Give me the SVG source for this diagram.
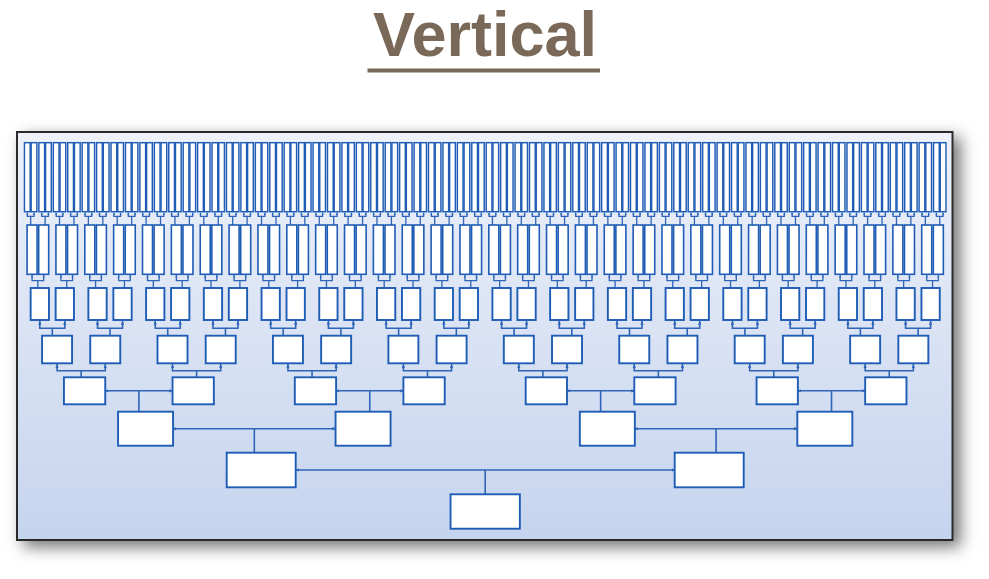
<svg xmlns="http://www.w3.org/2000/svg" width="989" height="579" viewBox="0 0 989 579">
<defs>
<linearGradient id="bg" x1="0" y1="0" x2="0" y2="1"><stop offset="0" stop-color="#eef1fa"/><stop offset="1" stop-color="#c5d4ee"/></linearGradient>
<filter id="sh" x="-5%" y="-5%" width="115%" height="125%"><feDropShadow dx="7" dy="6" stdDeviation="8" flood-color="#000" flood-opacity="0.55"/></filter>
<marker id="ah" viewBox="0 0 4 4" refX="4" refY="2" markerWidth="4" markerHeight="4" markerUnits="userSpaceOnUse" orient="auto-start-reverse"><path d="M0 0.4L4 2L0 3.6z" fill="#2d65b8"/></marker>
<marker id="as" viewBox="0 0 4 4" refX="4" refY="2" markerWidth="2.6" markerHeight="2.6" markerUnits="userSpaceOnUse" orient="auto-start-reverse"><path d="M0 0.4L4 2L0 3.6z" fill="#2d65b8"/></marker>
<rect id="b7L" x="-6.2" y="142.7" width="5.7" height="69"/>
<rect id="b7R" x="0.5" y="142.7" width="5.7" height="69"/>
<rect id="b6L" x="-10.8" y="225" width="10" height="49.3"/>
<rect id="b6R" x="0.8" y="225" width="10" height="49.3"/>
<rect id="b5L" x="-21.65" y="288" width="18.3" height="32"/>
<rect id="b5R" x="3.35" y="288" width="18.3" height="32"/>
<rect id="b4L" x="-39.1" y="335.7" width="30" height="27.6"/>
<rect id="b4R" x="9.1" y="335.7" width="30" height="27.6"/>
<rect id="b3L" x="-74.95" y="377.3" width="41.3" height="27"/>
<rect id="b3R" x="33.65" y="377.3" width="41.3" height="27"/>
<rect id="b2L" x="-136.25" y="411.7" width="55" height="34"/>
<rect id="b2R" x="81.25" y="411.7" width="55" height="34"/>
<g id="k7"><line x1="0" y1="225" x2="0" y2="216.3"/><path d="M-3.35 212.6V216.3H3.35V212.6" marker-start="url(#as)" marker-end="url(#as)"/></g>
<g id="k6"><line x1="0" y1="288" x2="0" y2="280.7"/><path d="M-5.8 275V280.7H5.8V275" marker-start="url(#as)" marker-end="url(#as)"/></g>
<g id="k5"><line x1="0" y1="335.7" x2="0" y2="328.3"/><path d="M-12.5 320.8V328.3H12.5V320.8" marker-start="url(#ah)" marker-end="url(#ah)"/></g>
<g id="k4"><line x1="0" y1="377.3" x2="0" y2="370.7"/><path d="M-24.1 364V370.7H24.1V364" marker-start="url(#ah)" marker-end="url(#ah)"/></g>
<g id="k3"><line x1="0" y1="411.7" x2="0" y2="390.8"/><path d="M-34.4 390.8H34.4" marker-start="url(#ah)" marker-end="url(#ah)"/></g>
<g id="k2"><line x1="0" y1="452.7" x2="0" y2="428.7"/><path d="M-82 428.7H82" marker-start="url(#ah)" marker-end="url(#ah)"/></g>
<g id="k1"><line x1="0" y1="494.3" x2="0" y2="470"/><path d="M-190.3 470H190.3" marker-start="url(#ah)" marker-end="url(#ah)"/></g>
</defs>
<style>
.title{font-family:"Liberation Sans",Arial,sans-serif;font-weight:bold;font-size:63px;fill:#7a6858}
</style>
<g id="title">
<text class="title" x="485" y="56" text-anchor="middle">Vertical</text>
<rect x="367.5" y="68.5" width="232.5" height="4" fill="#7a6858"/>
</g>
<rect id="panel" x="17" y="132" width="935.5" height="408" fill="url(#bg)" stroke="#2b2b2b" stroke-width="2" filter="url(#sh)"/>
<g id="connectors" fill="none" stroke="#2f64b8" stroke-width="1.6">
<g stroke-width="1.3">
<use href="#k7" x="30.66"/><use href="#k7" x="45.09"/><use href="#k7" x="59.52"/><use href="#k7" x="73.95"/><use href="#k7" x="88.38"/><use href="#k7" x="102.81"/><use href="#k7" x="117.24"/><use href="#k7" x="131.67"/><use href="#k7" x="146.1"/><use href="#k7" x="160.53"/><use href="#k7" x="174.96"/><use href="#k7" x="189.39"/><use href="#k7" x="203.82"/><use href="#k7" x="218.25"/><use href="#k7" x="232.68"/><use href="#k7" x="247.11"/><use href="#k7" x="261.54"/><use href="#k7" x="275.97"/><use href="#k7" x="290.4"/><use href="#k7" x="304.83"/><use href="#k7" x="319.26"/><use href="#k7" x="333.69"/><use href="#k7" x="348.12"/><use href="#k7" x="362.55"/><use href="#k7" x="376.98"/><use href="#k7" x="391.41"/><use href="#k7" x="405.84"/><use href="#k7" x="420.27"/><use href="#k7" x="434.7"/><use href="#k7" x="449.13"/><use href="#k7" x="463.56"/><use href="#k7" x="477.99"/><use href="#k7" x="492.42"/><use href="#k7" x="506.85"/><use href="#k7" x="521.28"/><use href="#k7" x="535.71"/><use href="#k7" x="550.14"/><use href="#k7" x="564.57"/><use href="#k7" x="579"/><use href="#k7" x="593.43"/><use href="#k7" x="607.86"/><use href="#k7" x="622.29"/><use href="#k7" x="636.72"/><use href="#k7" x="651.15"/><use href="#k7" x="665.58"/><use href="#k7" x="680.01"/><use href="#k7" x="694.44"/><use href="#k7" x="708.87"/><use href="#k7" x="723.3"/><use href="#k7" x="737.73"/><use href="#k7" x="752.16"/><use href="#k7" x="766.59"/><use href="#k7" x="781.02"/><use href="#k7" x="795.45"/><use href="#k7" x="809.88"/><use href="#k7" x="824.31"/><use href="#k7" x="838.74"/><use href="#k7" x="853.17"/><use href="#k7" x="867.6"/><use href="#k7" x="882.03"/><use href="#k7" x="896.46"/><use href="#k7" x="910.89"/><use href="#k7" x="925.32"/><use href="#k7" x="939.75"/>
<use href="#k6" x="37.87"/><use href="#k6" x="66.73"/><use href="#k6" x="95.59"/><use href="#k6" x="124.45"/><use href="#k6" x="153.31"/><use href="#k6" x="182.17"/><use href="#k6" x="211.03"/><use href="#k6" x="239.89"/><use href="#k6" x="268.75"/><use href="#k6" x="297.61"/><use href="#k6" x="326.47"/><use href="#k6" x="355.33"/><use href="#k6" x="384.19"/><use href="#k6" x="413.05"/><use href="#k6" x="441.91"/><use href="#k6" x="470.77"/><use href="#k6" x="499.63"/><use href="#k6" x="528.49"/><use href="#k6" x="557.35"/><use href="#k6" x="586.21"/><use href="#k6" x="615.07"/><use href="#k6" x="643.93"/><use href="#k6" x="672.79"/><use href="#k6" x="701.65"/><use href="#k6" x="730.51"/><use href="#k6" x="759.37"/><use href="#k6" x="788.23"/><use href="#k6" x="817.09"/><use href="#k6" x="845.95"/><use href="#k6" x="874.81"/><use href="#k6" x="903.67"/><use href="#k6" x="932.53"/>
</g>
<use href="#k5" x="52.3"/><use href="#k5" x="110.02"/><use href="#k5" x="167.74"/><use href="#k5" x="225.46"/><use href="#k5" x="283.18"/><use href="#k5" x="340.9"/><use href="#k5" x="398.62"/><use href="#k5" x="456.34"/><use href="#k5" x="514.06"/><use href="#k5" x="571.78"/><use href="#k5" x="629.5"/><use href="#k5" x="687.22"/><use href="#k5" x="744.94"/><use href="#k5" x="802.66"/><use href="#k5" x="860.38"/><use href="#k5" x="918.1"/>
<use href="#k4" x="81.16"/><use href="#k4" x="196.6"/><use href="#k4" x="312.04"/><use href="#k4" x="427.48"/><use href="#k4" x="542.92"/><use href="#k4" x="658.36"/><use href="#k4" x="773.8"/><use href="#k4" x="889.24"/>
<use href="#k3" x="138.88"/><use href="#k3" x="369.76"/><use href="#k3" x="600.64"/><use href="#k3" x="831.52"/>
<use href="#k2" x="254.32"/><use href="#k2" x="716.08"/>
<use href="#k1" x="485.2"/>
</g>
<g id="nodes" fill="#fff" stroke="#1f5cb5" stroke-width="1.9">
<g id="level7" stroke-width="1.45">
<g id="n7-0"><use href="#b7L" x="30.66"/></g><g id="n7-1"><use href="#b7R" x="30.66"/></g>
<g id="n7-2"><use href="#b7L" x="45.09"/></g><g id="n7-3"><use href="#b7R" x="45.09"/></g>
<g id="n7-4"><use href="#b7L" x="59.52"/></g><g id="n7-5"><use href="#b7R" x="59.52"/></g>
<g id="n7-6"><use href="#b7L" x="73.95"/></g><g id="n7-7"><use href="#b7R" x="73.95"/></g>
<g id="n7-8"><use href="#b7L" x="88.38"/></g><g id="n7-9"><use href="#b7R" x="88.38"/></g>
<g id="n7-10"><use href="#b7L" x="102.81"/></g><g id="n7-11"><use href="#b7R" x="102.81"/></g>
<g id="n7-12"><use href="#b7L" x="117.24"/></g><g id="n7-13"><use href="#b7R" x="117.24"/></g>
<g id="n7-14"><use href="#b7L" x="131.67"/></g><g id="n7-15"><use href="#b7R" x="131.67"/></g>
<g id="n7-16"><use href="#b7L" x="146.1"/></g><g id="n7-17"><use href="#b7R" x="146.1"/></g>
<g id="n7-18"><use href="#b7L" x="160.53"/></g><g id="n7-19"><use href="#b7R" x="160.53"/></g>
<g id="n7-20"><use href="#b7L" x="174.96"/></g><g id="n7-21"><use href="#b7R" x="174.96"/></g>
<g id="n7-22"><use href="#b7L" x="189.39"/></g><g id="n7-23"><use href="#b7R" x="189.39"/></g>
<g id="n7-24"><use href="#b7L" x="203.82"/></g><g id="n7-25"><use href="#b7R" x="203.82"/></g>
<g id="n7-26"><use href="#b7L" x="218.25"/></g><g id="n7-27"><use href="#b7R" x="218.25"/></g>
<g id="n7-28"><use href="#b7L" x="232.68"/></g><g id="n7-29"><use href="#b7R" x="232.68"/></g>
<g id="n7-30"><use href="#b7L" x="247.11"/></g><g id="n7-31"><use href="#b7R" x="247.11"/></g>
<g id="n7-32"><use href="#b7L" x="261.54"/></g><g id="n7-33"><use href="#b7R" x="261.54"/></g>
<g id="n7-34"><use href="#b7L" x="275.97"/></g><g id="n7-35"><use href="#b7R" x="275.97"/></g>
<g id="n7-36"><use href="#b7L" x="290.4"/></g><g id="n7-37"><use href="#b7R" x="290.4"/></g>
<g id="n7-38"><use href="#b7L" x="304.83"/></g><g id="n7-39"><use href="#b7R" x="304.83"/></g>
<g id="n7-40"><use href="#b7L" x="319.26"/></g><g id="n7-41"><use href="#b7R" x="319.26"/></g>
<g id="n7-42"><use href="#b7L" x="333.69"/></g><g id="n7-43"><use href="#b7R" x="333.69"/></g>
<g id="n7-44"><use href="#b7L" x="348.12"/></g><g id="n7-45"><use href="#b7R" x="348.12"/></g>
<g id="n7-46"><use href="#b7L" x="362.55"/></g><g id="n7-47"><use href="#b7R" x="362.55"/></g>
<g id="n7-48"><use href="#b7L" x="376.98"/></g><g id="n7-49"><use href="#b7R" x="376.98"/></g>
<g id="n7-50"><use href="#b7L" x="391.41"/></g><g id="n7-51"><use href="#b7R" x="391.41"/></g>
<g id="n7-52"><use href="#b7L" x="405.84"/></g><g id="n7-53"><use href="#b7R" x="405.84"/></g>
<g id="n7-54"><use href="#b7L" x="420.27"/></g><g id="n7-55"><use href="#b7R" x="420.27"/></g>
<g id="n7-56"><use href="#b7L" x="434.7"/></g><g id="n7-57"><use href="#b7R" x="434.7"/></g>
<g id="n7-58"><use href="#b7L" x="449.13"/></g><g id="n7-59"><use href="#b7R" x="449.13"/></g>
<g id="n7-60"><use href="#b7L" x="463.56"/></g><g id="n7-61"><use href="#b7R" x="463.56"/></g>
<g id="n7-62"><use href="#b7L" x="477.99"/></g><g id="n7-63"><use href="#b7R" x="477.99"/></g>
<g id="n7-64"><use href="#b7L" x="492.42"/></g><g id="n7-65"><use href="#b7R" x="492.42"/></g>
<g id="n7-66"><use href="#b7L" x="506.85"/></g><g id="n7-67"><use href="#b7R" x="506.85"/></g>
<g id="n7-68"><use href="#b7L" x="521.28"/></g><g id="n7-69"><use href="#b7R" x="521.28"/></g>
<g id="n7-70"><use href="#b7L" x="535.71"/></g><g id="n7-71"><use href="#b7R" x="535.71"/></g>
<g id="n7-72"><use href="#b7L" x="550.14"/></g><g id="n7-73"><use href="#b7R" x="550.14"/></g>
<g id="n7-74"><use href="#b7L" x="564.57"/></g><g id="n7-75"><use href="#b7R" x="564.57"/></g>
<g id="n7-76"><use href="#b7L" x="579"/></g><g id="n7-77"><use href="#b7R" x="579"/></g>
<g id="n7-78"><use href="#b7L" x="593.43"/></g><g id="n7-79"><use href="#b7R" x="593.43"/></g>
<g id="n7-80"><use href="#b7L" x="607.86"/></g><g id="n7-81"><use href="#b7R" x="607.86"/></g>
<g id="n7-82"><use href="#b7L" x="622.29"/></g><g id="n7-83"><use href="#b7R" x="622.29"/></g>
<g id="n7-84"><use href="#b7L" x="636.72"/></g><g id="n7-85"><use href="#b7R" x="636.72"/></g>
<g id="n7-86"><use href="#b7L" x="651.15"/></g><g id="n7-87"><use href="#b7R" x="651.15"/></g>
<g id="n7-88"><use href="#b7L" x="665.58"/></g><g id="n7-89"><use href="#b7R" x="665.58"/></g>
<g id="n7-90"><use href="#b7L" x="680.01"/></g><g id="n7-91"><use href="#b7R" x="680.01"/></g>
<g id="n7-92"><use href="#b7L" x="694.44"/></g><g id="n7-93"><use href="#b7R" x="694.44"/></g>
<g id="n7-94"><use href="#b7L" x="708.87"/></g><g id="n7-95"><use href="#b7R" x="708.87"/></g>
<g id="n7-96"><use href="#b7L" x="723.3"/></g><g id="n7-97"><use href="#b7R" x="723.3"/></g>
<g id="n7-98"><use href="#b7L" x="737.73"/></g><g id="n7-99"><use href="#b7R" x="737.73"/></g>
<g id="n7-100"><use href="#b7L" x="752.16"/></g><g id="n7-101"><use href="#b7R" x="752.16"/></g>
<g id="n7-102"><use href="#b7L" x="766.59"/></g><g id="n7-103"><use href="#b7R" x="766.59"/></g>
<g id="n7-104"><use href="#b7L" x="781.02"/></g><g id="n7-105"><use href="#b7R" x="781.02"/></g>
<g id="n7-106"><use href="#b7L" x="795.45"/></g><g id="n7-107"><use href="#b7R" x="795.45"/></g>
<g id="n7-108"><use href="#b7L" x="809.88"/></g><g id="n7-109"><use href="#b7R" x="809.88"/></g>
<g id="n7-110"><use href="#b7L" x="824.31"/></g><g id="n7-111"><use href="#b7R" x="824.31"/></g>
<g id="n7-112"><use href="#b7L" x="838.74"/></g><g id="n7-113"><use href="#b7R" x="838.74"/></g>
<g id="n7-114"><use href="#b7L" x="853.17"/></g><g id="n7-115"><use href="#b7R" x="853.17"/></g>
<g id="n7-116"><use href="#b7L" x="867.6"/></g><g id="n7-117"><use href="#b7R" x="867.6"/></g>
<g id="n7-118"><use href="#b7L" x="882.03"/></g><g id="n7-119"><use href="#b7R" x="882.03"/></g>
<g id="n7-120"><use href="#b7L" x="896.46"/></g><g id="n7-121"><use href="#b7R" x="896.46"/></g>
<g id="n7-122"><use href="#b7L" x="910.89"/></g><g id="n7-123"><use href="#b7R" x="910.89"/></g>
<g id="n7-124"><use href="#b7L" x="925.32"/></g><g id="n7-125"><use href="#b7R" x="925.32"/></g>
<g id="n7-126"><use href="#b7L" x="939.75"/></g><g id="n7-127"><use href="#b7R" x="939.75"/></g>
</g>
<g id="level6" stroke-width="1.6">
<g id="n6-0"><use href="#b6L" x="37.87"/></g><g id="n6-1"><use href="#b6R" x="37.87"/></g>
<g id="n6-2"><use href="#b6L" x="66.73"/></g><g id="n6-3"><use href="#b6R" x="66.73"/></g>
<g id="n6-4"><use href="#b6L" x="95.59"/></g><g id="n6-5"><use href="#b6R" x="95.59"/></g>
<g id="n6-6"><use href="#b6L" x="124.45"/></g><g id="n6-7"><use href="#b6R" x="124.45"/></g>
<g id="n6-8"><use href="#b6L" x="153.31"/></g><g id="n6-9"><use href="#b6R" x="153.31"/></g>
<g id="n6-10"><use href="#b6L" x="182.17"/></g><g id="n6-11"><use href="#b6R" x="182.17"/></g>
<g id="n6-12"><use href="#b6L" x="211.03"/></g><g id="n6-13"><use href="#b6R" x="211.03"/></g>
<g id="n6-14"><use href="#b6L" x="239.89"/></g><g id="n6-15"><use href="#b6R" x="239.89"/></g>
<g id="n6-16"><use href="#b6L" x="268.75"/></g><g id="n6-17"><use href="#b6R" x="268.75"/></g>
<g id="n6-18"><use href="#b6L" x="297.61"/></g><g id="n6-19"><use href="#b6R" x="297.61"/></g>
<g id="n6-20"><use href="#b6L" x="326.47"/></g><g id="n6-21"><use href="#b6R" x="326.47"/></g>
<g id="n6-22"><use href="#b6L" x="355.33"/></g><g id="n6-23"><use href="#b6R" x="355.33"/></g>
<g id="n6-24"><use href="#b6L" x="384.19"/></g><g id="n6-25"><use href="#b6R" x="384.19"/></g>
<g id="n6-26"><use href="#b6L" x="413.05"/></g><g id="n6-27"><use href="#b6R" x="413.05"/></g>
<g id="n6-28"><use href="#b6L" x="441.91"/></g><g id="n6-29"><use href="#b6R" x="441.91"/></g>
<g id="n6-30"><use href="#b6L" x="470.77"/></g><g id="n6-31"><use href="#b6R" x="470.77"/></g>
<g id="n6-32"><use href="#b6L" x="499.63"/></g><g id="n6-33"><use href="#b6R" x="499.63"/></g>
<g id="n6-34"><use href="#b6L" x="528.49"/></g><g id="n6-35"><use href="#b6R" x="528.49"/></g>
<g id="n6-36"><use href="#b6L" x="557.35"/></g><g id="n6-37"><use href="#b6R" x="557.35"/></g>
<g id="n6-38"><use href="#b6L" x="586.21"/></g><g id="n6-39"><use href="#b6R" x="586.21"/></g>
<g id="n6-40"><use href="#b6L" x="615.07"/></g><g id="n6-41"><use href="#b6R" x="615.07"/></g>
<g id="n6-42"><use href="#b6L" x="643.93"/></g><g id="n6-43"><use href="#b6R" x="643.93"/></g>
<g id="n6-44"><use href="#b6L" x="672.79"/></g><g id="n6-45"><use href="#b6R" x="672.79"/></g>
<g id="n6-46"><use href="#b6L" x="701.65"/></g><g id="n6-47"><use href="#b6R" x="701.65"/></g>
<g id="n6-48"><use href="#b6L" x="730.51"/></g><g id="n6-49"><use href="#b6R" x="730.51"/></g>
<g id="n6-50"><use href="#b6L" x="759.37"/></g><g id="n6-51"><use href="#b6R" x="759.37"/></g>
<g id="n6-52"><use href="#b6L" x="788.23"/></g><g id="n6-53"><use href="#b6R" x="788.23"/></g>
<g id="n6-54"><use href="#b6L" x="817.09"/></g><g id="n6-55"><use href="#b6R" x="817.09"/></g>
<g id="n6-56"><use href="#b6L" x="845.95"/></g><g id="n6-57"><use href="#b6R" x="845.95"/></g>
<g id="n6-58"><use href="#b6L" x="874.81"/></g><g id="n6-59"><use href="#b6R" x="874.81"/></g>
<g id="n6-60"><use href="#b6L" x="903.67"/></g><g id="n6-61"><use href="#b6R" x="903.67"/></g>
<g id="n6-62"><use href="#b6L" x="932.53"/></g><g id="n6-63"><use href="#b6R" x="932.53"/></g>
</g>
<g id="level5">
<g id="n5-0"><use href="#b5L" x="52.3"/></g><g id="n5-1"><use href="#b5R" x="52.3"/></g>
<g id="n5-2"><use href="#b5L" x="110.02"/></g><g id="n5-3"><use href="#b5R" x="110.02"/></g>
<g id="n5-4"><use href="#b5L" x="167.74"/></g><g id="n5-5"><use href="#b5R" x="167.74"/></g>
<g id="n5-6"><use href="#b5L" x="225.46"/></g><g id="n5-7"><use href="#b5R" x="225.46"/></g>
<g id="n5-8"><use href="#b5L" x="283.18"/></g><g id="n5-9"><use href="#b5R" x="283.18"/></g>
<g id="n5-10"><use href="#b5L" x="340.9"/></g><g id="n5-11"><use href="#b5R" x="340.9"/></g>
<g id="n5-12"><use href="#b5L" x="398.62"/></g><g id="n5-13"><use href="#b5R" x="398.62"/></g>
<g id="n5-14"><use href="#b5L" x="456.34"/></g><g id="n5-15"><use href="#b5R" x="456.34"/></g>
<g id="n5-16"><use href="#b5L" x="514.06"/></g><g id="n5-17"><use href="#b5R" x="514.06"/></g>
<g id="n5-18"><use href="#b5L" x="571.78"/></g><g id="n5-19"><use href="#b5R" x="571.78"/></g>
<g id="n5-20"><use href="#b5L" x="629.5"/></g><g id="n5-21"><use href="#b5R" x="629.5"/></g>
<g id="n5-22"><use href="#b5L" x="687.22"/></g><g id="n5-23"><use href="#b5R" x="687.22"/></g>
<g id="n5-24"><use href="#b5L" x="744.94"/></g><g id="n5-25"><use href="#b5R" x="744.94"/></g>
<g id="n5-26"><use href="#b5L" x="802.66"/></g><g id="n5-27"><use href="#b5R" x="802.66"/></g>
<g id="n5-28"><use href="#b5L" x="860.38"/></g><g id="n5-29"><use href="#b5R" x="860.38"/></g>
<g id="n5-30"><use href="#b5L" x="918.1"/></g><g id="n5-31"><use href="#b5R" x="918.1"/></g>
</g>
<g id="level4">
<g id="n4-0"><use href="#b4L" x="81.16"/></g><g id="n4-1"><use href="#b4R" x="81.16"/></g>
<g id="n4-2"><use href="#b4L" x="196.6"/></g><g id="n4-3"><use href="#b4R" x="196.6"/></g>
<g id="n4-4"><use href="#b4L" x="312.04"/></g><g id="n4-5"><use href="#b4R" x="312.04"/></g>
<g id="n4-6"><use href="#b4L" x="427.48"/></g><g id="n4-7"><use href="#b4R" x="427.48"/></g>
<g id="n4-8"><use href="#b4L" x="542.92"/></g><g id="n4-9"><use href="#b4R" x="542.92"/></g>
<g id="n4-10"><use href="#b4L" x="658.36"/></g><g id="n4-11"><use href="#b4R" x="658.36"/></g>
<g id="n4-12"><use href="#b4L" x="773.8"/></g><g id="n4-13"><use href="#b4R" x="773.8"/></g>
<g id="n4-14"><use href="#b4L" x="889.24"/></g><g id="n4-15"><use href="#b4R" x="889.24"/></g>
</g>
<g id="level3">
<g id="n3-0"><use href="#b3L" x="138.88"/></g><g id="n3-1"><use href="#b3R" x="138.88"/></g>
<g id="n3-2"><use href="#b3L" x="369.76"/></g><g id="n3-3"><use href="#b3R" x="369.76"/></g>
<g id="n3-4"><use href="#b3L" x="600.64"/></g><g id="n3-5"><use href="#b3R" x="600.64"/></g>
<g id="n3-6"><use href="#b3L" x="831.52"/></g><g id="n3-7"><use href="#b3R" x="831.52"/></g>
</g>
<g id="level2">
<g id="n2-0"><use href="#b2L" x="254.32"/></g><g id="n2-1"><use href="#b2R" x="254.32"/></g>
<g id="n2-2"><use href="#b2L" x="716.08"/></g><g id="n2-3"><use href="#b2R" x="716.08"/></g>
</g>
<g id="level1">
<g id="n1-0"><rect x="226.7" y="452.7" width="69" height="34.6"/></g>
<g id="n1-1"><rect x="674.7" y="452.7" width="69" height="34.6"/></g>
</g>
<g id="root"><rect x="450.55" y="494.3" width="69.3" height="34.4"/></g>
</g>
</svg>
